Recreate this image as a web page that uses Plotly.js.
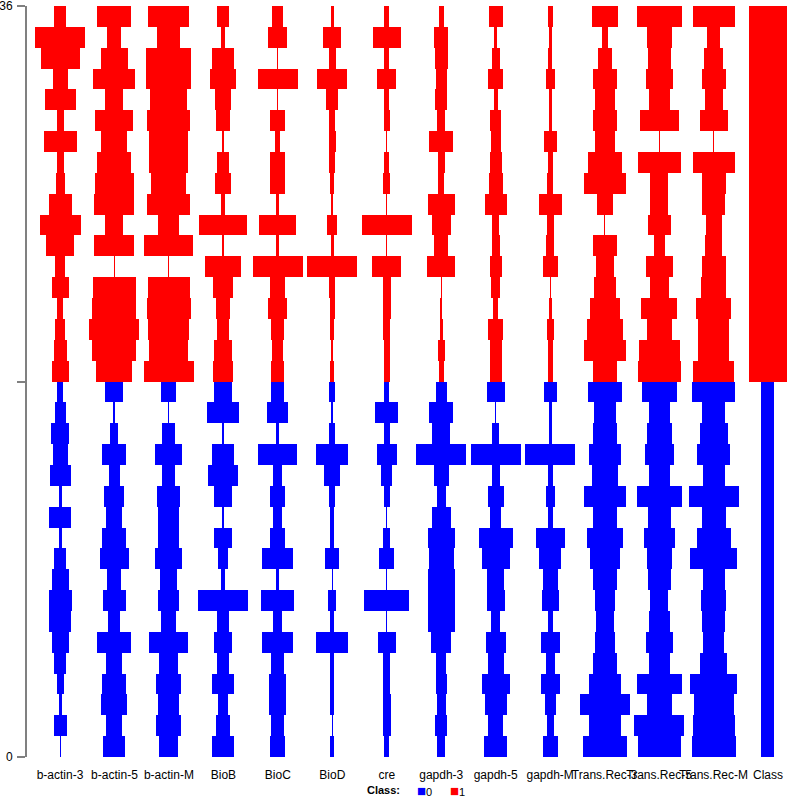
<!DOCTYPE html>
<html>
<head>
<meta charset="utf-8">
<script src="https://cdn.plot.ly/plotly-3.0.1.min.js"></script>
<style>html,body{margin:0;padding:0;background:#fff;}#chart{width:800px;height:800px;}</style>
</head>
<body>
<div id="chart"></div>
<script>
// Attribute names (columns, left to right)
const attributes = ['b-actin-3','b-actin-5','b-actin-M','BioB','BioC','BioD','cre','gapdh-3','gapdh-5','gapdh-M','Trans.Rec-3','Trans.Rec-5','Trans.Rec-M','Class'];

// Class of each instance, listed top to bottom (18 of class 1, then 18 of class 0)
const classes = [1,1,1,1,1,1,1,1,1,1,1,1,1,1,1,1,1,1,
                 0,0,0,0,0,0,0,0,0,0,0,0,0,0,0,0,0,0];

// Relative bar widths per attribute (0..50 scale), instances top to bottom
const bActin3 = [12,50,39,15,31,7,33,7,9,23,41,28,10,17,6,10,13,17, 6,11,18,15,21,3,22,3,12,17,23,22,17,12,7,3,13,1];
const bActin5 = [34,14,27,42,18,38,26,34,39,40,18,40,1,43,44,50,44,36, 18,2,8,24,11,20,16,24,29,14,23,12,34,16,24,26,16,22];
const bActinM = [41,23,45,45,37,43,39,39,35,43,21,49,1,42,44,41,39,50, 15,1,13,27,13,23,21,21,27,17,21,15,39,19,25,21,25,19];
const bioB    = [12,4,22,26,16,14,2,12,16,4,48,2,36,20,14,12,18,20, 18,32,2,22,30,18,2,18,10,4,50,12,18,12,22,10,14,22];
const bioC    = [11,19,1,40,1,15,5,15,15,3,37,3,50,15,19,13,11,13, 13,21,3,39,9,15,9,15,31,3,33,9,31,13,17,17,13,15];
const bioD    = [3,18,7,30,12,6,7,6,4,2,10,3,50,6,5,4,2,4, 6,2,6,32,16,6,4,4,14,1,8,4,32,4,4,4,1,4];
const cre     = [5,28,5,19,5,6,1,5,7,1,50,1,29,8,8,7,6,6, 5,23,6,20,11,6,1,7,15,1,45,1,18,7,7,8,8,5];
const gapdh3  = [5,14,13,11,12,8,24,7,6,27,19,14,28,1,2,3,7,5, 11,24,18,50,15,9,19,27,25,27,27,27,20,10,11,9,12,8];
const gapdh5  = [14,3,8,15,4,11,10,12,14,22,7,8,12,9,5,15,12,12, 18,1,7,50,8,16,11,34,28,17,18,9,20,16,28,22,15,23];
const gapdhM  = [5,3,4,9,3,3,13,5,6,23,7,8,15,1,3,7,5,5, 13,3,3,50,5,9,5,29,22,15,17,5,19,9,19,11,7,15];
const transRec3 = [26,6,14,24,20,24,20,34,42,16,1,24,18,22,30,36,42,24, 34,22,24,32,26,42,24,36,30,24,20,18,20,24,32,50,32,44];
const transRec5 = [45,25,23,27,21,39,1,43,18,18,23,11,27,19,36,25,41,43, 35,21,25,29,21,45,23,31,25,23,18,21,27,21,45,25,50,43];
const transRecM = [42,13,19,24,18,28,1,42,24,23,16,17,24,25,35,31,31,41, 43,23,28,33,22,50,24,34,47,22,25,23,21,27,47,40,42,44];
const classCol  = [38,38,38,38,38,38,38,38,38,38,38,38,38,38,38,38,38,38,
                   13,13,13,13,13,13,13,13,13,13,13,13,13,13,13,13,13,13];

const columns = [bActin3,bActin5,bActinM,bioB,bioC,bioD,cre,gapdh3,gapdh5,gapdhM,transRec3,transRec5,transRecM,classCol];
const classLabels = ['0','1'];
const classColors = ['#0000FF','#FF0000'];

const maxVal = 50;
const maxFrac = 0.918; // widest bar as fraction of column spacing
const nRows = classes.length;

const traces = [0,1].map(function(cls){
  const x=[], base=[], width=[], y=[];
  columns.forEach(function(col, j){
    col.forEach(function(v, i){
      if (classes[i] !== cls) return;
      x.push(j);
      base.push(nRows - 1 - i);
      y.push(1);
      width.push(Math.max(v,1) / maxVal * maxFrac);
    });
  });
  return {
    type:'bar', x:x, y:y, base:base, width:width,
    name: classLabels[cls],
    marker:{color:classColors[cls], line:{width:0}},
    hoverinfo:'skip', showlegend:false
  };
});

const font = 'Liberation Sans, Arial, sans-serif';
const legY = -0.044;
function legendItem(cls){
  return '<span style="color:'+classColors[cls]+';font-size:15px">■</span>'+classLabels[cls];
}
const layout = {
  width:800, height:800,
  margin:{l:27, r:5, t:6, b:43, pad:0},
  paper_bgcolor:'#fff', plot_bgcolor:'#fff',
  barmode:'overlay', bargap:0,
  showlegend:false,
  font:{family:font, size:12, color:'#000'},
  xaxis:{
    range:[-0.606, 13.496], tickmode:'array',
    tickvals: attributes.map(function(_,i){return i;}), ticktext: attributes,
    showgrid:false, zeroline:false, showline:false, ticks:'',
    tickfont:{family:font, size:12, color:'#000'}, tickangle:0,
    automargin:false, fixedrange:true, ticklabelstandoff:9
  },
  yaxis:{
    range:[0,36], tickmode:'array', tickvals:[0,18,36], ticktext:['0','','36'],
    ticks:'outside', ticklen:8, tickwidth:2, tickcolor:'#808080',
    showline:true, linecolor:'#808080', linewidth:2,
    showgrid:false, zeroline:false,
    tickfont:{family:font, size:12, color:'#000'},
    automargin:false, fixedrange:true, ticklabelstandoff:2,
    ticklabeloverflow:'allow'
  },
  annotations:[
    {xref:'paper', yref:'paper', x:0.4648, y:legY, xanchor:'center', yanchor:'middle',
     text:'<b>Class:</b>', showarrow:false, font:{family:font, size:11, color:'#000'}},
    {xref:'paper', yref:'paper', x:0.518, y:legY, xanchor:'center', yanchor:'middle',
     text:legendItem(0), showarrow:false, font:{family:font, size:11, color:'#000'}},
    {xref:'paper', yref:'paper', x:0.561, y:legY, xanchor:'center', yanchor:'middle',
     text:legendItem(1), showarrow:false, font:{family:font, size:11, color:'#000'}}
  ]
};

Plotly.newPlot('chart', traces, layout, {staticPlot:true, displayModeBar:false});
</script>
</body>
</html>
